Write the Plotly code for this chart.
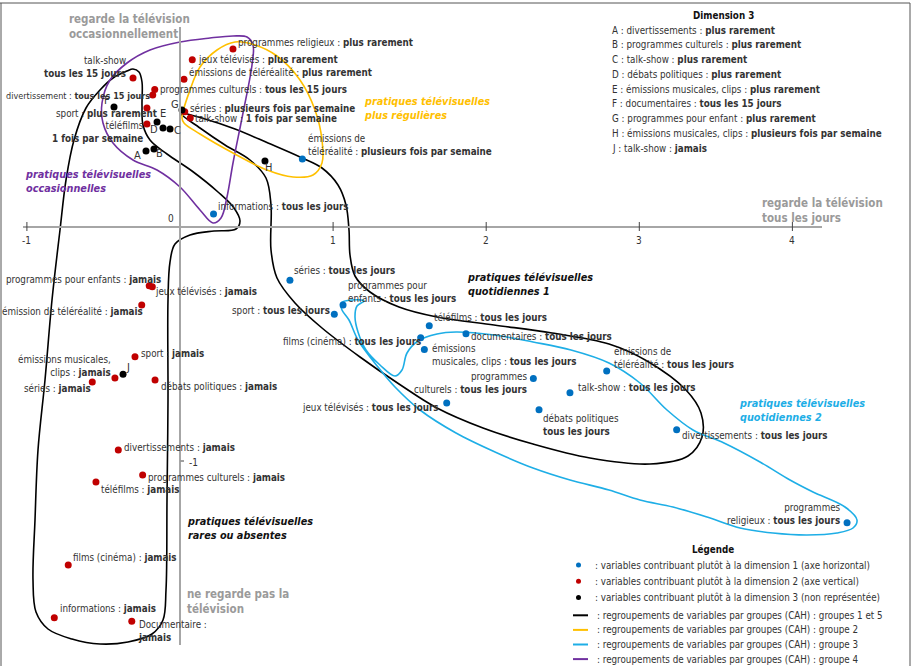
import plotly.graph_objects as go

# ---------------- page geometry (pixel frame of the picture) ----------------
W, H = 915, 666
X0PX, UX = 180.0, 153.1      # pixel of x=0, pixels per unit
Y0PX, UY = 227.0, 234.0      # pixel of y=0, pixels per unit
def X(px): return (px - X0PX) / UX
def Y(py): return (Y0PX - py) / UY

FONT = "DejaVu Sans Condensed, Liberation Sans Narrow, Liberation Sans, sans-serif"
FS = 9.75

# ---------------- data ----------------
# dimension 1 (blue)
dim1_labels = [
    "émissions de<br>téléréalité : <b>plusieurs fois par semaine</b>",
    "informations : <b>tous les jours</b>",
    "séries : <b>tous les jours</b>",
    "programmes pour<br>enfants : <b>tous les jours</b>",
    "sport : <b>tous les jours</b>",
    "téléfilms : <b>tous les jours</b>",
    "documentaires : <b>tous les jours</b>",
    "films (cinéma) : <b>tous les jours</b>",
    "émissions<br>musicales, clips : <b>tous les jours</b>",
    "programmes<br>culturels : <b>tous les jours</b>",
    "talk-show : <b>tous les jours</b>",
    "jeux télévisés : <b>tous les jours</b>",
    "débats politiques<br><b>tous les jours</b>",
    "émissions de<br>téléréalité : <b>tous les jours</b>",
    "divertissements : <b>tous les jours</b>",
    "programmes<br>religieux : <b>tous les jours</b>",
]
dim1_x = [0.799, 0.219, 0.718, 1.065, 1.008, 1.628, 1.868, 1.572, 1.596, 2.308, 2.547, 1.742, 2.345, 2.787, 3.244, 4.357]
dim1_y = [0.291, 0.056, -0.228, -0.333, -0.373, -0.422, -0.456, -0.473, -0.523, -0.647, -0.708, -0.752, -0.781, -0.615, -0.866, -1.264]

# dimension 2 (red)
dim2_labels = [
    "talk-show<br><b>tous les 15 jours</b>",
    "programmes culturels : <b>tous les 15 jours</b>",
    "divertissement : <b>tous les 15 jours</b>",
    "sport : <b>plus rarement</b>",
    "téléfilms<br><b>1 fois par semaine</b>",
    "émissions de téléréalité : <b>plus rarement</b>",
    "jeux télévisés : <b>plus rarement</b>",
    "programmes religieux : <b>plus rarement</b>",
    "séries : <b>plusieurs fois par semaine</b>",
    "talk-show : <b>1 fois par semaine</b>",
    "programmes pour enfants : <b>jamais</b>",
    "jeux télévisés : <b>jamais</b>",
    "émission de téléréalité : <b>jamais</b>",
    "sport : <b>jamais</b>",
    "émissions musicales,<br>clips : <b>jamais</b>",
    "séries : <b>jamais</b>",
    "débats politiques : <b>jamais</b>",
    "divertissements : <b>jamais</b>",
    "programmes culturels : <b>jamais</b>",
    "téléfilms : <b>jamais</b>",
    "films (cinéma) : <b>jamais</b>",
    "informations : <b>jamais</b>",
    "Documentaire :<br><b>jamais</b>",
]
dim2_x = [-0.307, -0.165, -0.178, -0.216, -0.216, 0.026, 0.080, 0.346, 0.031, 0.067, -0.201, -0.181, -0.250,
          -0.294, -0.425, -0.573, -0.163, -0.403, -0.244, -0.549, -0.730, -0.821, -0.315]
dim2_y = [0.637, 0.588, 0.564, 0.509, 0.440, 0.631, 0.715, 0.761, 0.493, 0.466, -0.251, -0.255, -0.333,
          -0.554, -0.645, -0.662, -0.654, -0.953, -1.060, -1.090, -1.444, -1.670, -1.685]

# dimension 3 (black, letters)
dim3_letters = ["A", "B", "C", "D", "E", "F", "G", "H", "J"]
dim3_x = [-0.222, -0.170, -0.065, -0.111, -0.150, -0.431, 0.013, 0.555, -0.372]
dim3_y = [0.325, 0.333, 0.419, 0.423, 0.449, 0.513, 0.500, 0.282, -0.629]
dim3_text = [
    "A : divertissements : <b>plus rarement</b>",
    "B : programmes culturels : <b>plus rarement</b>",
    "C : talk-show : <b>plus rarement</b>",
    "D : débats politiques : <b>plus rarement</b>",
    "E : émissions musicales, clips : <b>plus rarement</b>",
    "F : documentaires : <b>tous les 15 jours</b>",
    "G : programmes pour enfant : <b>plus rarement</b>",
    "H : émissions musicales, clips : <b>plusieurs fois par semaine</b>",
    "J : talk-show : <b>jamais</b>",
]

x_ticks = [-1, 0, 1, 2, 3, 4]

# ---------------- label placement (pixel offsets, anchor, font size) ----------------
dim1_pos = [(4, -13.5, "left"), (2, -7, "left"), (2, -10, "left"), (3, -13, "left"), (-2, -4, "right"),
            (3, -8, "left"), (3, 3, "left"), (2, 4, "right"), (6, 6, "left"), (-4, 5, "right"),
            (6, -5, "left"), (-6, 5, "right"), (2, 15, "left"), (5, -13, "left"), (3, 6, "left"),
            (-4, -9, "right")]
dim2_pos = [(-5, -10.5, "right"), (3.5, 0, "left"), (-1, 1, "right"), (12, 6, "right"), (-1, 8, "right"),
            (3, -7, "left"), (4, 0, "left"), (3, -6, "left"), (3, -3, "left"), (3, 1, "left"),
            (14, -6, "right"), (1, 4.5, "left"), (3, 7, "right"), (4, -3, "left"), (-2, -12, "right"),
            (1, 7, "right"), (4, 6, "left"), (4, -3, "left"), (3, 2, "left"), (3, 7, "left"),
            (3, -7, "left"), (4, -9, "left"), (4, 10, "left")]
dim2_size = {2: 9.0}
dim3_pos = [(-9, 5), (6, 4), (7, 2), (-9, 1), (6, -8), (-7, -6), (-7, -6), (4, 6), (5, -7)]

# ---------------- hand-drawn group outlines (traced in pixels) ----------------
curve_black1 = [(127, 71), (133, 69), (139, 72), (142, 82), (142, 105), (143, 125), (150, 140), (167, 154),
                (192, 171), (218, 192), (234, 208), (240, 221), (236, 229), (214, 231), (190, 235), (175, 244),
                (170, 262), (168, 300), (168, 400), (167, 500), (166, 590), (163, 620), (152, 634), (128, 642),
                (100, 644), (72, 639), (48, 629), (36, 612), (33, 580), (35, 520), (38, 450), (45, 380),
                (52, 300), (60, 230), (66, 180), (74, 140), (86, 108), (100, 90), (113, 78), (127, 71)]
curve_black2 = [(180, 113), (205, 119), (235, 129), (268, 143), (300, 157), (322, 168), (338, 185), (346, 205),
                (349, 230), (350, 255), (355, 276), (370, 292), (399, 307), (437, 317), (494, 325), (552, 333),
                (609, 344), (647, 361), (686, 390), (701, 413), (702, 437), (688, 456), (650, 464), (590, 458),
                (533, 444), (483, 428), (437, 408), (399, 384), (360, 357), (322, 328), (295, 303), (277, 278),
                (271, 250), (271, 205), (266, 178), (250, 160), (225, 145), (200, 128), (180, 113)]
curve_purple = [(233, 36), (247, 37), (253, 45), (252, 65), (243, 113), (233, 163), (227, 197), (221, 218),
                (213, 223), (200, 210), (180, 187), (157, 170), (133, 160), (113, 143), (103, 123), (102, 103),
                (110, 80), (127, 63), (150, 50), (180, 42), (210, 38), (233, 36)]
curve_orange = [(182, 118), (190, 90), (200, 67), (217, 50), (235, 42), (255, 45), (277, 56), (300, 80),
                (315, 110), (322, 140), (322, 163), (313, 175), (293, 177), (267, 170), (233, 153), (200, 134),
                (184, 123), (182, 118)]
curve_blue = [(341, 303), (352, 300), (364, 301), (357, 306), (355, 317), (358, 332), (366, 350), (380, 365),
              (395, 376), (402, 370), (407, 353), (418, 341), (437, 334), (456, 332), (494, 335), (533, 342),
              (571, 350), (609, 363), (640, 383), (667, 410), (693, 430), (724, 443), (760, 462), (790, 480),
              (813, 492), (845, 507), (857, 520), (853, 528), (837, 533), (807, 535), (773, 533), (740, 528),
              (707, 517), (673, 507), (640, 500), (609, 490), (570, 480), (533, 468), (495, 452), (456, 433),
              (420, 410), (395, 387), (378, 367), (358, 340), (349, 320), (342, 310), (341, 303)]

C_BLUE, C_RED, C_BLACK = "#0070c0", "#c00000", "#000000"
C_ORANGE, C_LBLUE, C_PURPLE, C_GRAY = "#ffc000", "#1eaee6", "#7030a0", "#9a9a9a"
TXT = "#333333"

fig = go.Figure()

for pts, col in [(curve_black1, C_BLACK), (curve_black2, C_BLACK), (curve_purple, C_PURPLE),
                 (curve_orange, C_ORANGE), (curve_blue, C_LBLUE)]:
    fig.add_trace(go.Scatter(x=[X(p[0]) for p in pts], y=[Y(p[1]) for p in pts], mode="lines",
                             line=dict(color=col, width=1.6, shape="spline", smoothing=1.0),
                             hoverinfo="skip", showlegend=False))

# axes drawn as shapes
shapes = []
shapes.append(dict(type="line", xref="x", yref="y", x0=X(23), x1=X(822), y0=0, y1=0,
                   line=dict(color="#a6a6a6", width=2)))
shapes.append(dict(type="line", xref="x", yref="y", x0=0, x1=0, y0=Y(27), y1=Y(645),
                   line=dict(color="#a6a6a6", width=2)))
for k in x_ticks:
    if k != 0:
        shapes.append(dict(type="line", xref="x", yref="y", x0=k, x1=k, y0=Y(222), y1=Y(231),
                           line=dict(color="#444", width=1)))
shapes.append(dict(type="line", xref="x", yref="y", x0=0.005, x1=X(184), y0=-1, y1=-1,
                   line=dict(color="#444", width=1)))
# frame
shapes.append(dict(type="line", xref="x", yref="y", x0=X(0), x1=X(910), y0=Y(3), y1=Y(3),
                   line=dict(color="#555", width=1)))
shapes.append(dict(type="line", xref="x", yref="y", x0=X(910), x1=X(910), y0=Y(3), y1=Y(666),
                   line=dict(color="#555", width=1)))
shapes.append(dict(type="line", xref="x", yref="y", x0=X(1), x1=X(1), y0=Y(3), y1=Y(666),
                   line=dict(color="#555", width=1)))

# points
fig.add_trace(go.Scatter(x=dim1_x, y=dim1_y, mode="markers", marker=dict(color=C_BLUE, size=7),
                         hoverinfo="skip", showlegend=False))
fig.add_trace(go.Scatter(x=dim2_x, y=dim2_y, mode="markers", marker=dict(color=C_RED, size=7),
                         hoverinfo="skip", showlegend=False))
fig.add_trace(go.Scatter(x=dim3_x, y=dim3_y, mode="markers", marker=dict(color=C_BLACK, size=7),
                         hoverinfo="skip", showlegend=False))

ann = []
def label(x, y, text, dx, dy, anchor, size=FS, color=TXT):
    ann.append(dict(x=x, y=y, xref="x", yref="y", text=text, showarrow=False,
                    xanchor=anchor, yanchor="middle", xshift=dx, yshift=-dy,
                    align=anchor,
                    font=dict(family=FONT, size=size, color=color)))

for xv, yv, t, (dx, dy, a) in zip(dim1_x, dim1_y, dim1_labels, dim1_pos):
    label(xv, yv, t, dx, dy, a)
for i, (xv, yv, t, (dx, dy, a)) in enumerate(zip(dim2_x, dim2_y, dim2_labels, dim2_pos)):
    label(xv, yv, t, dx, dy, a, size=dim2_size.get(i, FS))
for xv, yv, t, (dx, dy) in zip(dim3_x, dim3_y, dim3_letters, dim3_pos):
    label(xv, yv, t, dx, dy, "center", size=11)

def ptext(px, py, text, size=FS, color=TXT, anchor="left"):
    ann.append(dict(x=X(px), y=Y(py), xref="x", yref="y", text=text, showarrow=False,
                    xanchor=anchor, yanchor="middle", align=anchor,
                    font=dict(family=FONT, size=size, color=color)))

# axis tick labels
for k in x_ticks:
    if k != 0:
        ann.append(dict(x=k, y=Y(240), xref="x", yref="y", text=str(k), showarrow=False,
                        xanchor="center", yanchor="middle", font=dict(family=FONT, size=10, color=TXT)))
ptext(171, 218, "0", anchor="center", size=10)
ptext(187, 462, "-1", size=10)

# group headings
ptext(67, 26.5, "<b>regarde la télévision<br>occasionnellement</b>", size=11.5, color=C_GRAY)
ptext(760, 210.5, "<b>regarde la télévision<br>tous les jours</b>", size=11.5, color=C_GRAY)
ptext(185, 601.5, "<b>ne regarde pas la<br>télévision</b>", size=11.5, color=C_GRAY)
ptext(23, 181.5, "<b><i>pratiques télévisuelles<br>occasionnelles</i></b>", size=10.8, color=C_PURPLE)
ptext(362, 108, "<b><i>pratiques télévisuelles<br>plus régulières</i></b>", size=10.8, color=C_ORANGE)
ptext(465, 284.5, "<b><i>pratiques télévisuelles<br>quotidiennes 1</i></b>", size=10.8, color="#111")
ptext(737, 410, "<b><i>pratiques télévisuelles<br>quotidiennes 2</i></b>", size=10.8, color=C_LBLUE)
ptext(185, 528, "<b><i>pratiques télévisuelles<br>rares ou absentes</i></b>", size=10.8, color="#111")

# Dimension 3 box
ptext(723, 15.5, "<b>Dimension 3</b>", color="#111", anchor="center")
for i, t in enumerate(dim3_text):
    ptext(610, 30 + i * 14.75, t)

# bottom legend
ptext(713, 549, "<b>Légende</b>", color="#111", anchor="center")
leg_pts = [(C_BLUE, ": variables contribuant plutôt à la dimension 1 (axe horizontal)"),
           (C_RED, ": variables contribuant plutôt à la dimension 2 (axe vertical)"),
           (C_BLACK, ": variables contribuant plutôt à la dimension 3 (non représentée)")]
for i, (c, t) in enumerate(leg_pts):
    py = 565 + i * 16.3
    shapes.append(dict(type="circle", xref="x", yref="y", x0=X(576), x1=X(581), y0=Y(py + 2.5), y1=Y(py - 2.5),
                       fillcolor=c, line=dict(color=c, width=0)))
    ptext(593, py, t)
leg_lines = [(C_BLACK, ": regroupements de variables par groupes (CAH) : groupes 1 et 5"),
             (C_ORANGE, ": regroupements de variables par groupes (CAH) : groupe 2"),
             (C_LBLUE, ": regroupements de variables par groupes (CAH) : groupe 3"),
             (C_PURPLE, ": regroupements de variables par groupes (CAH) : groupe 4")]
for i, (c, t) in enumerate(leg_lines):
    py = 615.3 + i * 14.6
    shapes.append(dict(type="line", xref="x", yref="y", x0=X(573), x1=X(588), y0=Y(py), y1=Y(py),
                       line=dict(color=c, width=2)))
    ptext(595, py, t)

fig.update_layout(
    width=W, height=H, margin=dict(l=0, r=0, t=0, b=0),
    paper_bgcolor="white", plot_bgcolor="white",
    xaxis=dict(range=[X(0), X(W)], visible=False, fixedrange=True),
    yaxis=dict(range=[Y(H), Y(0)], visible=False, fixedrange=True),
    shapes=shapes, annotations=ann, showlegend=False,
)
fig.write_html("out.html", config={"displayModeBar": False},
               post_script="document.body.style.margin='0px';")
